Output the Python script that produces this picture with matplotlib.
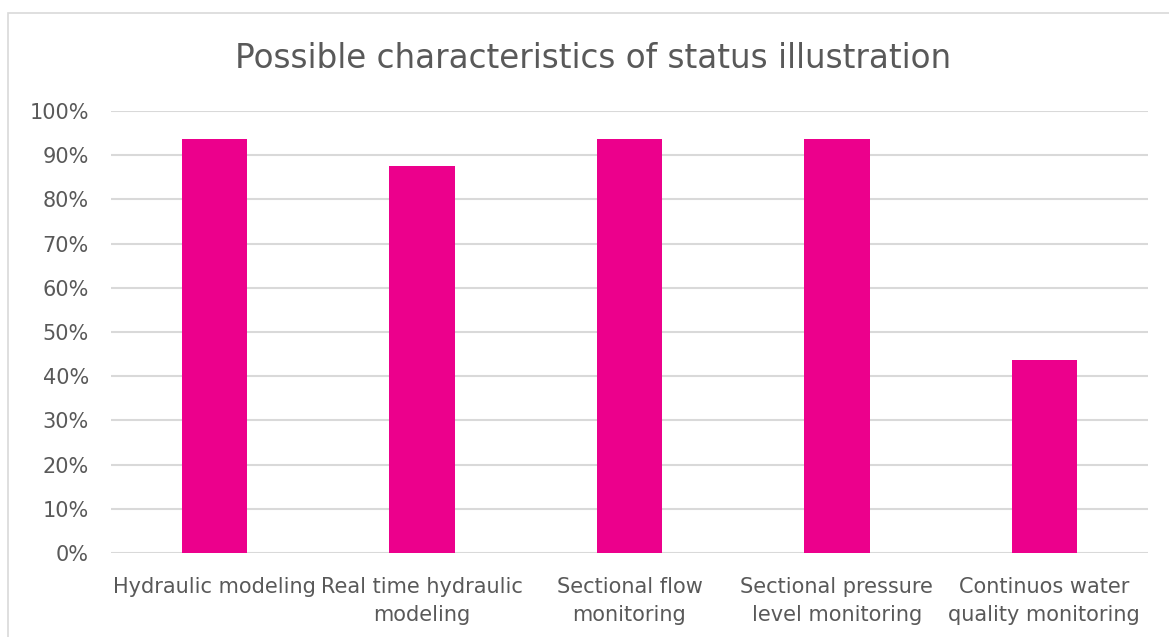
import matplotlib.pyplot as plt
from matplotlib.patches import Rectangle
from matplotlib.ticker import PercentFormatter

categories = ["Hydraulic modeling", "Real time hydraulic\nmodeling", "Sectional flow\nmonitoring",
              "Sectional pressure\nlevel monitoring", "Continuos water\nquality monitoring"]
shares = [0.9375, 0.875, 0.9375, 0.9375, 0.4375]
yticks = [0, 0.1, 0.2, 0.3, 0.4, 0.5, 0.6, 0.7, 0.8, 0.9, 1.0]

plt.rcParams['font.family'] = ['DejaVu Sans']
text_gray = '#595959'

fig = plt.figure(figsize=(11.69, 6.37), dpi=100)
ax = fig.add_axes([111 / 1169, 1 - 553 / 637, (1148 - 111) / 1169, (553 - 111) / 637])

# outer chart frame
fig.patches.append(Rectangle((8 / 1169, -0.1), 1.2, 1 - 13 / 637 + 0.1, transform=fig.transFigure,
                             fill=False, edgecolor='#d9d9d9', linewidth=1.2))

x = range(len(categories))
ax.bar(x, shares, width=0.315, color='#ec008c', zorder=3)

ax.set_xlim(-0.5, len(categories) - 0.5)
ax.set_ylim(0, 1.0)
ax.set_yticks(yticks)
ax.yaxis.set_major_formatter(PercentFormatter(1.0, decimals=0))
ax.set_xticks(list(x))
ax.set_xticklabels(categories, fontsize=15, color=text_gray, linespacing=1.5)
ax.tick_params(axis='y', labelsize=15, labelcolor=text_gray, length=0, pad=16)
ax.tick_params(axis='x', length=0, pad=17)
ax.grid(axis='y', color='#d9d9d9', linewidth=1.5, zorder=0)
for s in ax.spines.values():
    s.set_visible(False)

fig.text(593 / 1169, 1 - 59 / 637, "Possible characteristics of status illustration", ha='center', va='center',
         fontsize=23.5, color=text_gray)

fig.savefig('out.png', dpi=100)
